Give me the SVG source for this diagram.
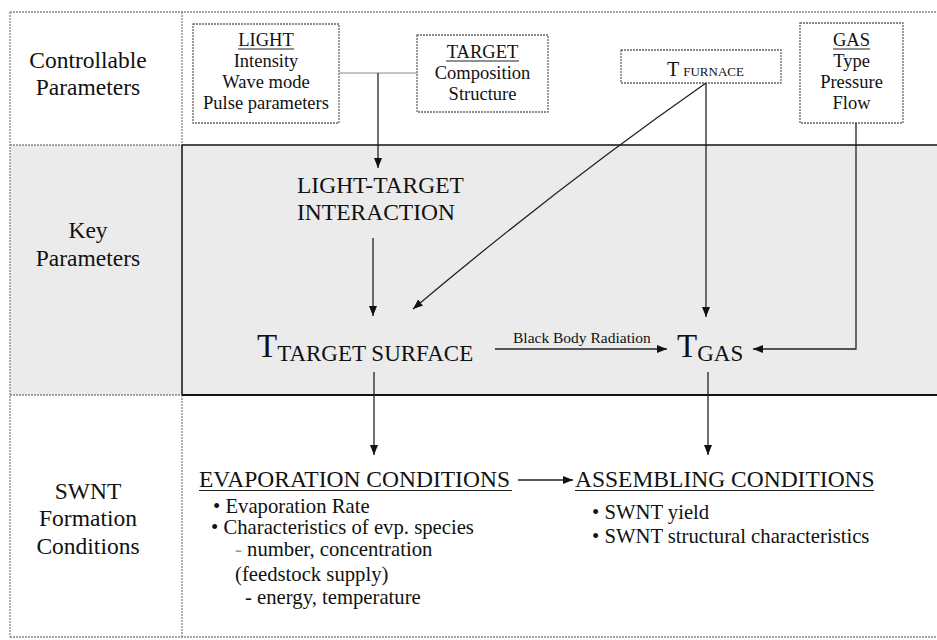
<svg xmlns="http://www.w3.org/2000/svg" width="937" height="640" viewBox="0 0 937 640" font-family="'Liberation Serif','Times New Roman',serif">
<defs>
<style>
text{font-family:"Liberation Serif","Times New Roman",serif;fill:#111}
.lab{font-size:23.5px;text-anchor:middle}
.box{fill:#fff;stroke:#666;stroke-width:1.3;stroke-dasharray:2 1}
.bt{font-size:18.5px;text-anchor:middle}
.dot{stroke:#888;stroke-width:1.3;stroke-dasharray:2 1;fill:none}
.ln{stroke:#222;stroke-width:1.3;fill:none}
.ul{stroke:#222;stroke-width:1.2}
.big{font-size:23.5px}
.bul{font-size:20.7px}
</style>
<marker id="ah" viewBox="0 0 10 10" refX="10" refY="5" markerWidth="10" markerHeight="10" markerUnits="userSpaceOnUse" orient="auto">
<path d="M0,1 L10,5 L0,9 z" fill="#111"/>
</marker>
</defs>
<rect width="937" height="640" fill="#fff"/>
<g id="frame">
<rect x="10" y="145" width="927" height="250" fill="#ebebeb"/>
<line class="dot" x1="10" y1="12" x2="937" y2="12"/>
<line class="dot" x1="10" y1="637" x2="937" y2="637"/>
<line class="dot" x1="10" y1="12" x2="10" y2="637"/>
<line class="dot" x1="182" y1="12" x2="182" y2="145"/>
<line class="dot" x1="182" y1="395" x2="182" y2="637"/>
<line class="dot" x1="10" y1="145" x2="182" y2="145"/>
<line class="dot" x1="10" y1="395" x2="182" y2="395"/>
<line x1="182" y1="145" x2="937" y2="145" stroke="#111" stroke-width="1.3"/>
<line x1="182" y1="395" x2="937" y2="395" stroke="#111" stroke-width="2"/>
<line x1="182" y1="145" x2="182" y2="395" stroke="#111" stroke-width="1.5"/>
</g>
<g id="row-labels">
<text class="lab" x="88" y="68">Controllable</text>
<text class="lab" x="88" y="95">Parameters</text>
<text class="lab" x="88" y="238">Key</text>
<text class="lab" x="88" y="266">Parameters</text>
<text class="lab" x="88" y="499">SWNT</text>
<text class="lab" x="88" y="526">Formation</text>
<text class="lab" x="88" y="554">Conditions</text>
</g>
<g id="light">
<rect class="box" x="193" y="24" width="146" height="99"/>
<text class="bt" x="266" y="46">LIGHT</text>
<line class="ul" x1="238" y1="49" x2="294" y2="49"/>
<text class="bt" x="266" y="67">Intensity</text>
<text class="bt" x="266" y="88">Wave mode</text>
<text class="bt" x="266" y="109">Pulse parameters</text>
</g>
<g id="target">
<rect class="box" x="417" y="35" width="131" height="77"/>
<text class="bt" x="482.5" y="58">TARGET</text>
<line class="ul" x1="446" y1="61" x2="519" y2="61"/>
<text class="bt" x="482.5" y="79">Composition</text>
<text class="bt" x="482.5" y="100">Structure</text>
</g>
<g id="furnace">
<rect class="box" x="621" y="50" width="160" height="33"/>
<text x="667" y="76" font-size="20px">T<tspan font-size="13px" dx="4">FURNACE</tspan></text>
</g>
<g id="gas">
<rect class="box" x="800" y="23" width="103" height="100"/>
<text class="bt" x="851.5" y="46">GAS</text>
<line class="ul" x1="833" y1="49" x2="870" y2="49"/>
<text class="bt" x="851.5" y="67">Type</text>
<text class="bt" x="851.5" y="88">Pressure</text>
<text class="bt" x="851.5" y="109">Flow</text>
</g>
<g id="interaction">
<text class="big" x="297" y="193">LIGHT-TARGET</text>
<text class="big" x="297" y="220">INTERACTION</text>
</g>
<g id="t-target-surface">
<text x="257" y="357" font-size="33px">T<tspan font-size="23px" dy="4">TARGET SURFACE</tspan></text>
</g>
<g id="t-gas">
<text x="677" y="357" font-size="33px">T<tspan font-size="23px" dy="4">GAS</tspan></text>
</g>
<g id="evaporation">
<text class="big" x="199" y="487">EVAPORATION CONDITIONS</text>
<line class="ul" x1="199" y1="490.5" x2="512" y2="490.5"/>
<text class="bul" x="213" y="513">• Evaporation Rate</text>
<text class="bul" x="211" y="534">• Characteristics of evp. species</text>
<text class="bul" x="235" y="556"><tspan fill="#999">-</tspan> number, concentration</text>
<text class="bul" x="235" y="581">(feedstock supply)</text>
<text class="bul" x="245" y="604">- energy, temperature</text>
</g>
<g id="assembling">
<text class="big" x="575" y="487">ASSEMBLING CONDITIONS</text>
<line class="ul" x1="575" y1="490.5" x2="874" y2="490.5"/>
<text class="bul" x="592" y="519">• SWNT yield</text>
<text class="bul" x="592" y="543">• SWNT structural characteristics</text>
</g>
<g id="connectors">
<line x1="339" y1="73" x2="417" y2="73" stroke="#888" stroke-width="1"/>
<path class="ln" d="M378,73 V168" marker-end="url(#ah)"/>
<path class="ln" d="M373,238 V316" marker-end="url(#ah)"/>
<path class="ln" d="M706,83 Q560,185 413,309" marker-end="url(#ah)"/>
<path class="ln" d="M706,83 V317" marker-end="url(#ah)"/>
<path class="ln" d="M856,123 V349 H753" marker-end="url(#ah)"/>
<path class="ln" d="M495,349 H667" marker-end="url(#ah)"/>
<text x="513" y="343" font-size="15.5px">Black Body Radiation</text>
<path class="ln" d="M374,372 V455" marker-end="url(#ah)"/>
<path class="ln" d="M708,372 V455" marker-end="url(#ah)"/>
<path class="ln" d="M518,480 H573" marker-end="url(#ah)"/>
</g>
</svg>
